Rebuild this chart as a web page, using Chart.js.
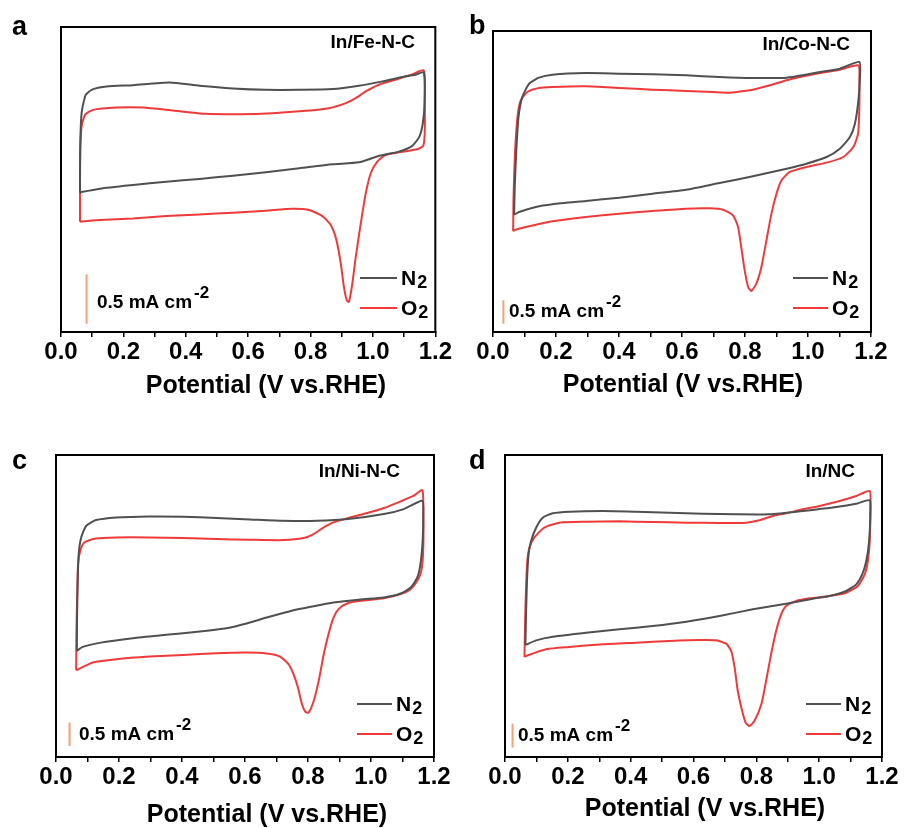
<!DOCTYPE html>
<html>
<head>
<meta charset="utf-8">
<script src="https://cdn.jsdelivr.net/npm/chart.js@4.4.0/dist/chart.umd.min.js"></script>
<style>
    body { margin: 0; background: #fff; width: 906px; height: 828px; position: relative; overflow: hidden; }
    canvas { position: absolute; }
</style>
</head>
<body>
<canvas id="chartFe" width="453" height="414" style="left:0;top:0"></canvas>
<canvas id="chartCo" width="453" height="414" style="left:453px;top:0"></canvas>
<canvas id="chartNi" width="453" height="414" style="left:0;top:414px"></canvas>
<canvas id="chartNC" width="453" height="414" style="left:453px;top:414px"></canvas>
<script>
// ----------------------------------------------------------
// DATOS: potencial (V vs. RHE) y densidad de corriente (mA cm-2)
// Cada curva es un ciclo cerrado (barrido anódico + catódico)
// ----------------------------------------------------------
const ticksPotencial = [0.0, 0.2, 0.4, 0.6, 0.8, 1.0, 1.2];

// Panel a: In/Fe-N-C
const potFeN2 = [0.061, 0.061, 0.062, 0.066, 0.077, 0.084, 0.103, 0.146, 0.231, 0.348, 0.444, 0.551, 0.657, 0.764, 0.870, 0.955, 1.030, 1.094, 1.136, 1.163,
                 1.166, 1.160, 1.149, 1.126, 1.083, 1.019, 0.955, 0.870, 0.764, 0.657, 0.551, 0.444, 0.338, 0.231, 0.125, 0.066, 0.061];
const corFeN2 = [-0.128, 0.135, 0.405, 0.676, 0.845, 0.878, 0.919, 0.946, 0.959, 0.986, 0.953, 0.926, 0.912, 0.912, 0.919, 0.953, 0.997, 1.041, 1.064, 1.088,
                 0.811, 0.574, 0.439, 0.345, 0.287, 0.243, 0.179, 0.159, 0.118, 0.078, 0.044, 0.010, -0.017, -0.051, -0.088, -0.122, -0.128];
const potFeO2 = [0.061, 0.061, 0.062, 0.066, 0.077, 0.103, 0.178, 0.263, 0.359, 0.465, 0.572, 0.678, 0.785, 0.859, 0.913, 0.945, 0.977, 1.019, 1.072, 1.126, 1.163,
                 1.166, 1.166, 1.161, 1.142, 1.083, 1.040, 1.014, 0.993, 0.977, 0.961, 0.945, 0.934, 0.923, 0.916, 0.907, 0.897, 0.883, 0.865, 0.838, 0.796, 0.742,
                 0.657, 0.551, 0.444, 0.338, 0.231, 0.125, 0.066, 0.061];
const corFeO2 = [-0.422, -0.068, 0.304, 0.541, 0.659, 0.709, 0.733, 0.733, 0.703, 0.669, 0.666, 0.676, 0.699, 0.726, 0.777, 0.828, 0.895, 0.963, 1.014, 1.068, 1.108,
                 0.811, 0.473, 0.345, 0.311, 0.280, 0.253, 0.186, 0.068, -0.135, -0.439, -0.777, -1.047, -1.233, -1.216, -1.081, -0.845, -0.608, -0.456, -0.365, -0.304, -0.291,
                 -0.311, -0.331, -0.348, -0.365, -0.389, -0.405, -0.419, -0.422];

// Panel b: In/Co-N-C
const potCoN2 = [0.067, 0.069, 0.074, 0.081, 0.093, 0.115, 0.146, 0.189, 0.295, 0.401, 0.507, 0.613, 0.719, 0.825, 0.932, 1.038, 1.101, 1.163,
                 1.165, 1.160, 1.149, 1.133, 1.101, 1.059, 0.995, 0.932, 0.825, 0.719, 0.613, 0.507, 0.401, 0.295, 0.189, 0.136, 0.083, 0.067];
const corCoN2 = [-0.736, -0.143, 0.643, 1.357, 1.786, 2.071, 2.200, 2.264, 2.300, 2.286, 2.271, 2.250, 2.214, 2.193, 2.200, 2.321, 2.393, 2.536,
                 2.214, 1.714, 1.214, 0.929, 0.679, 0.500, 0.357, 0.250, 0.086, -0.057, -0.200, -0.286, -0.371, -0.443, -0.514, -0.571, -0.679, -0.736];
const potCoO2 = [0.064, 0.065, 0.068, 0.072, 0.079, 0.088, 0.109, 0.146, 0.189, 0.295, 0.401, 0.507, 0.613, 0.698, 0.751, 0.780, 0.825, 0.879, 0.932, 0.985, 1.038, 1.101, 1.160,
                 1.163, 1.163, 1.159, 1.144, 1.112, 1.059, 0.995, 0.942, 0.916, 0.900, 0.884, 0.868, 0.852, 0.836, 0.820, 0.810, 0.799, 0.788, 0.778, 0.762, 0.730, 0.688,
                 0.613, 0.507, 0.401, 0.295, 0.189, 0.115, 0.067, 0.064];
const corCoO2 = [-1.093, -0.429, 0.286, 0.857, 1.429, 1.714, 1.893, 1.979, 2.000, 2.014, 1.979, 1.943, 1.914, 1.893, 1.879, 1.900, 1.943, 2.036, 2.143, 2.229, 2.300, 2.371, 2.464,
                 2.143, 1.571, 1.000, 0.714, 0.500, 0.379, 0.286, 0.179, 0.000, -0.286, -0.714, -1.286, -1.857, -2.214, -2.371, -2.286, -1.929, -1.429, -1.000, -0.750, -0.629, -0.600,
                 -0.607, -0.657, -0.714, -0.786, -0.879, -0.986, -1.071, -1.093];

// Panel c: In/Ni-N-C
const potNiN2 = [0.066, 0.067, 0.069, 0.072, 0.080, 0.096, 0.127, 0.191, 0.297, 0.404, 0.510, 0.616, 0.722, 0.828, 0.934, 1.041, 1.104, 1.163,
                 1.166, 1.164, 1.157, 1.147, 1.126, 1.094, 1.041, 0.966, 0.881, 0.807, 0.754, 0.669, 0.605, 0.542, 0.457, 0.350, 0.244, 0.138, 0.085, 0.066];
const corNiN2 = [-1.214, -0.429, 0.286, 0.857, 1.214, 1.464, 1.586, 1.643, 1.664, 1.657, 1.629, 1.600, 1.571, 1.571, 1.614, 1.714, 1.821, 2.000,
                 1.714, 1.143, 0.643, 0.357, 0.143, 0.014, -0.071, -0.114, -0.179, -0.271, -0.343, -0.500, -0.629, -0.729, -0.800, -0.871, -0.943, -1.043, -1.129, -1.214];
const potNiO2 = [0.064, 0.065, 0.067, 0.070, 0.077, 0.090, 0.127, 0.191, 0.297, 0.404, 0.510, 0.616, 0.722, 0.786, 0.818, 0.850, 0.881, 0.934, 0.988, 1.041, 1.094, 1.136, 1.163,
                 1.166, 1.166, 1.160, 1.147, 1.126, 1.094, 1.041, 0.966, 0.924, 0.897, 0.881, 0.865, 0.850, 0.834, 0.818, 0.802, 0.791, 0.781, 0.768, 0.754, 0.738, 0.711,
                 0.669, 0.605, 0.510, 0.404, 0.297, 0.191, 0.117, 0.069, 0.064];
const corNiO2 = [-1.629, -0.786, -0.071, 0.643, 0.929, 1.107, 1.193, 1.214, 1.214, 1.200, 1.179, 1.164, 1.157, 1.200, 1.286, 1.429, 1.536, 1.643, 1.736, 1.843, 1.986, 2.107, 2.229,
                 1.857, 1.000, 0.500, 0.286, 0.107, 0.000, -0.086, -0.143, -0.200, -0.321, -0.500, -0.857, -1.286, -1.857, -2.286, -2.536, -2.514, -2.357, -2.000, -1.714, -1.500, -1.336,
                 -1.271, -1.250, -1.264, -1.300, -1.336, -1.393, -1.464, -1.614, -1.629];

// Panel d: In/NC
const potNCN2 = [0.065, 0.067, 0.070, 0.075, 0.083, 0.099, 0.120, 0.152, 0.205, 0.311, 0.417, 0.524, 0.630, 0.736, 0.842, 0.948, 1.054, 1.118, 1.161,
                 1.163, 1.159, 1.150, 1.137, 1.118, 1.086, 1.033, 0.980, 0.895, 0.789, 0.683, 0.577, 0.470, 0.364, 0.258, 0.152, 0.099, 0.065];
const corNCN2 = [-1.048, -0.414, 0.276, 0.828, 1.103, 1.379, 1.586, 1.676, 1.710, 1.724, 1.710, 1.690, 1.669, 1.655, 1.655, 1.724, 1.807, 1.876, 1.945,
                 1.655, 1.103, 0.690, 0.414, 0.207, 0.069, -0.034, -0.090, -0.193, -0.310, -0.448, -0.566, -0.655, -0.724, -0.793, -0.876, -0.952, -1.048];
const potNCO2 = [0.062, 0.064, 0.067, 0.071, 0.078, 0.093, 0.125, 0.173, 0.258, 0.364, 0.470, 0.577, 0.683, 0.768, 0.810, 0.853, 0.895, 0.948, 1.001, 1.065, 1.118, 1.161,
                 1.163, 1.161, 1.155, 1.145, 1.123, 1.086, 1.033, 0.970, 0.927, 0.895, 0.879, 0.863, 0.847, 0.831, 0.816, 0.794, 0.778, 0.766, 0.755, 0.741, 0.731, 0.720, 0.704,
                 0.672, 0.619, 0.524, 0.417, 0.311, 0.205, 0.131, 0.067, 0.062];
const corNCO2 = [-1.297, -0.552, 0.138, 0.690, 0.966, 1.172, 1.379, 1.483, 1.503, 1.510, 1.497, 1.483, 1.476, 1.483, 1.531, 1.621, 1.676, 1.759, 1.828, 1.931, 2.034, 2.138,
                 1.793, 1.103, 0.690, 0.414, 0.172, 0.034, -0.034, -0.083, -0.138, -0.241, -0.414, -0.759, -1.241, -1.793, -2.276, -2.621, -2.724, -2.655, -2.414, -2.000, -1.517, -1.172, -1.021,
                 -0.952, -0.945, -0.966, -1.000, -1.034, -1.090, -1.138, -1.276, -1.297];

// Barras de escala (0.5 mA cm-2): potencial y corriente inicial/final
const escalaPot = [0.082, 0.033, 0.043, 0.024];
const escalaCor = [[-1.453, -0.953], [-3.071, -2.571], [-3.250, -2.750], [-3.172, -2.672]];


// ----------------------------------------------------------
// ESTILOS
// ----------------------------------------------------------
const colorN2     = '#505050';
const colorO2     = '#ee3a3a';
const colorEscala = '#f4a07a';
const fuente      = '"Liberation Sans", Arial, sans-serif';

function puntos(pot, cor) {
    return pot.map((v, i) => ({ x: v, y: cor[i] }));
}

// Dibuja marco, letra del panel, nombre de muestra, leyenda,
// texto de la barra de escala y título del eje X
const textosPanel = {
    id: 'textosPanel',
    afterDraw(chart) {
        const c = chart.options.panel;
        const ctx = chart.ctx;
        const a = chart.chartArea;
        ctx.save();
        ctx.strokeStyle = '#000';
        ctx.lineWidth = 2;
        ctx.strokeRect(a.left, a.top, a.right - a.left, a.bottom - a.top);

        ctx.fillStyle = '#000';
        ctx.textBaseline = 'alphabetic';
        ctx.textAlign = 'left';
        ctx.font = 'bold 27px ' + fuente;
        ctx.fillText(c.letra, c.letraX, c.letraY);

        ctx.textAlign = 'right';
        ctx.font = 'bold 19px ' + fuente;
        ctx.fillText(c.muestra, c.muestraX, c.muestraY);

        // leyenda
        ctx.textAlign = 'left';
        [['N', colorN2, c.leyY], ['O', colorO2, c.leyY + 30]].forEach(([t, col, y]) => {
            ctx.strokeStyle = col;
            ctx.lineWidth = 2;
            ctx.beginPath();
            ctx.moveTo(c.leyX0, y);
            ctx.lineTo(c.leyX1, y);
            ctx.stroke();
            ctx.font = 'bold 21px ' + fuente;
            ctx.fillText(t, c.leyX1 + 4, y + 7);
            const w = ctx.measureText(t).width;
            ctx.font = 'bold 18px ' + fuente;
            ctx.fillText('2', c.leyX1 + 5 + w, y + 10);
        });

        // texto de la barra de escala
        ctx.font = 'bold 19px ' + fuente;
        ctx.fillText('0.5 mA cm', c.escX, c.escY);
        const we = ctx.measureText('0.5 mA cm').width;
        ctx.font = 'bold 17px ' + fuente;
        ctx.fillText('-2', c.escX + we + 2, c.escY - 10);

        // título del eje X
        ctx.textAlign = 'center';
        ctx.font = 'bold 25px ' + fuente;
        ctx.fillText('Potential (V vs.RHE)', c.tituloX, c.tituloY);
        ctx.restore();
    }
};

function crearPanel(id, datos, panel) {
    new Chart(document.getElementById(id), {
        type: 'scatter',
        data: {
            datasets: [
                { data: puntos(datos.potN2, datos.corN2), showLine: true, borderColor: colorN2, borderWidth: 2, pointRadius: 0, tension: 0.2 },
                { data: puntos(datos.potO2, datos.corO2), showLine: true, borderColor: colorO2, borderWidth: 2, pointRadius: 0, tension: 0.2 },
                { data: puntos([datos.escPot, datos.escPot], datos.escCor), showLine: true, borderColor: colorEscala, borderWidth: 2, pointRadius: 0 }
            ]
        },
        options: {
            responsive: false,
            animation: false,
            events: [],
            panel: panel,
            layout: { autoPadding: false, padding: panel.padding },
            plugins: { legend: { display: false }, tooltip: { enabled: false } },
            scales: {
                x: {
                    type: 'linear',
                    min: ticksPotencial[0],
                    max: ticksPotencial[ticksPotencial.length - 1],
                    afterFit: s => { s.height = 40; },
                    afterBuildTicks: s => {
                        s.ticks = [];
                        for (let k = 0; k <= 12; k++) s.ticks.push({ value: k / 10 });
                    },
                    ticks: {
                        autoSkip: false,
                        maxRotation: 0,
                        padding: 1,
                        color: '#000',
                        font: { family: fuente, size: 24, weight: 'bold' },
                        callback: v => {
                            const t = ticksPotencial.find(p => Math.abs(p - v) < 1e-6);
                            return t === undefined ? '' : t.toFixed(1);
                        }
                    },
                    grid: { drawOnChartArea: false, tickLength: 5, color: '#000', lineWidth: 1.5 },
                    border: { display: true, color: '#000', width: 2 }
                },
                y: { display: false, min: datos.yMin, max: datos.yMax }
            }
        },
        plugins: [textosPanel]
    });
}


// ----------------------------------------------------------
// PANEL A: In/Fe-N-C
// ----------------------------------------------------------
crearPanel('chartFe',
    { potN2: potFeN2, corN2: corFeN2, potO2: potFeO2, corO2: corFeO2, escPot: escalaPot[0], escCor: escalaCor[0], yMin: -1.537, yMax: 1.547 },
    { padding: { left: 61, right: 16, top: 27, bottom: 42 },
      letra: 'a', letraX: 12, letraY: 35, muestra: 'In/Fe-N-C', muestraX: 415, muestraY: 48,
      leyX0: 360, leyX1: 397, leyY: 278, escX: 97, escY: 308, tituloX: 266, tituloY: 393 });

// ----------------------------------------------------------
// PANEL B: In/Co-N-C
// ----------------------------------------------------------
crearPanel('chartCo',
    { potN2: potCoN2, corN2: corCoN2, potO2: potCoO2, corO2: corCoO2, escPot: escalaPot[1], escCor: escalaCor[1], yMin: -3.25, yMax: 3.2 },
    { padding: { left: 40, right: 35, top: 31, bottom: 42 },
      letra: 'b', letraX: 16, letraY: 34, muestra: 'In/Co-N-C', muestraX: 397, muestraY: 50,
      leyX0: 340, leyX1: 375, leyY: 278, escX: 56, escY: 317, tituloX: 230, tituloY: 392 });

// ----------------------------------------------------------
// PANEL C: In/Ni-N-C
// ----------------------------------------------------------
crearPanel('chartNi',
    { potN2: potNiN2, corN2: corNiN2, potO2: potNiO2, corO2: corNiO2, escPot: escalaPot[2], escCor: escalaCor[2], yMin: -3.486, yMax: 2.979 },
    { padding: { left: 56, right: 19, top: 41, bottom: 31 },
      letra: 'c', letraX: 12, letraY: 55, muestra: 'In/Ni-N-C', muestraX: 400, muestraY: 63,
      leyX0: 357, leyX1: 392, leyY: 290, escX: 79, escY: 326, tituloX: 267, tituloY: 408 });

// ----------------------------------------------------------
// PANEL D: In/NC
// ----------------------------------------------------------
crearPanel('chartNC',
    { potN2: potNCN2, corN2: corNCN2, potO2: potNCO2, corO2: corNCO2, escPot: escalaPot[3], escCor: escalaCor[3], yMin: -3.366, yMax: 2.883 },
    { padding: { left: 52, right: 24, top: 41, bottom: 31 },
      letra: 'd', letraX: 16, letraY: 55, muestra: 'In/NC', muestraX: 402, muestraY: 63,
      leyX0: 353, leyX1: 388, leyY: 290, escX: 65, escY: 327, tituloX: 252, tituloY: 402 });
</script>
</body>
</html>
